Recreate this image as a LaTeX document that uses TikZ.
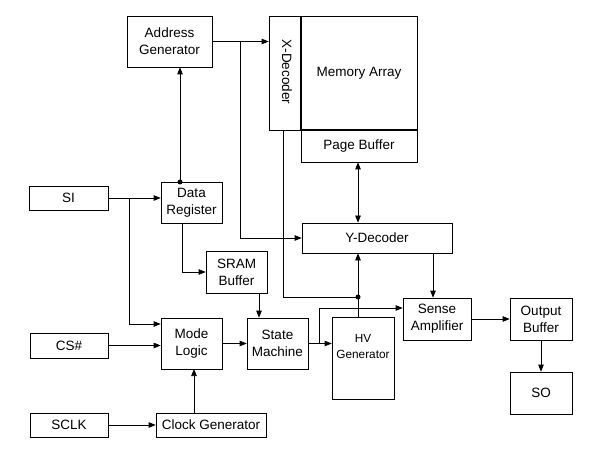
\documentclass[tikz,border=0pt]{standalone}
\usepackage{fontspec}
\setmainfont{Liberation Sans}
\usetikzlibrary{arrows.meta, calc}

\begin{document}
\begin{tikzpicture}[x=1pt, y=-1pt, line width=0.7pt,
    blk/.style={draw, inner sep=0pt, align=center, font=\fontsize{13.5}{17}\selectfont},
    arr/.style={-{Triangle[length=7pt,width=5.5pt]}},
    dbl/.style={{Triangle[length=7pt,width=5.5pt]}-{Triangle[length=7pt,width=5.5pt]}}]
      \useasboundingbox (0,0) rectangle (597,457);

      % top blocks
      \node[blk, minimum width=85, minimum height=51] (addr) at (169.5,41.5) {Address\\Generator};
      \node[blk, minimum width=32, minimum height=114] (xdec) at (285,73) {};
      \node[font=\fontsize{13.5}{17}\selectfont, rotate=-90] (xdectxt) at (287,72) {X-Decoder};
      \node[blk, minimum width=116, minimum height=114] (mem) at (359,73) {Memory Array};
      \node[blk, minimum width=116, minimum height=32] (page) at (359,146) {Page Buffer};
      \draw[line width=1.8pt] (mem.north west) -- (mem.south west) -- (mem.south east);
      \node[blk, minimum width=150, minimum height=30] (ydec) at (377,238) {Y-Decoder};

      % inputs
      \node[blk, minimum width=79, minimum height=24] (si) at (68.5,198) {SI};
      \node[blk, minimum width=78, minimum height=25] (cs) at (69,345.5) {CS\#};
      \node[blk, minimum width=78, minimum height=24] (sclk) at (69,425) {SCLK};

      % control path
      \node[blk, minimum width=61, minimum height=41] (dreg) at (191.5,202.5) {Data\\Register};
      \node[blk, minimum width=61, minimum height=42] (sram) at (236.5,272) {SRAM\\Buffer};
      \node[blk, minimum width=61, minimum height=51] (mode) at (191.5,343.5) {Mode\\Logic};
      \node[blk, minimum width=110, minimum height=24] (clk) at (211,425) {Clock Generator};
      \node[blk, minimum width=61, minimum height=51] (sm) at (277.5,343.5) {State\\Machine};
      \node[blk, minimum width=62, minimum height=82, font=\fontsize{11.8}{16}\selectfont] (hv) at (363,358) {HV\\Generator\\[8pt]};

      % output path
      \node[blk, minimum width=68, minimum height=42] (sense) at (437,319) {Sense\\Amplifier};
      \node[blk, minimum width=62, minimum height=42] (out) at (541,319) {Output\\Buffer};
      \node[blk, minimum width=62, minimum height=42] (so) at (541,393) {SO};

      % junctions
      \coordinate (abr) at (240,41.5);
      \coordinate (sibr) at (129,198);
      \coordinate (dtop) at (180,182);
      \coordinate (dout) at (182,223);
      \coordinate (srout) at (259,293);
      \coordinate (mlin) at (194,369);
      \coordinate (smbr) at (319,343.5);
      \coordinate (hvtop) at (358,317);
      \coordinate (ydot) at (358,297);
      \coordinate (xout) at (283,130);
      \coordinate (ydout) at (433,253);

      \draw[arr] (addr.east) -- (addr.east -| xdec.west);
      \draw[arr] (abr) |- (ydec.west);
      \draw[arr] (dtop) -- (dtop |- addr.south);
      \fill (dtop) circle (2.5pt);
      \draw[arr] (si.east) -- (si.east -| dreg.west);
      \draw[arr] (sibr) |- ($(mode.west)+(0,-19.5)$);
      \draw[arr] (cs.east) -- (cs.east -| mode.west);
      \draw[arr] (sclk.east) -- (sclk.east -| clk.west);
      \draw[arr] (mlin |- clk.north) -- (mlin);
      \draw[arr] (mode.east) -- (sm.west);
      \draw[arr] (dout) |- (sram.west);
      \draw[arr] (srout) -- (srout |- sm.north);
      \draw[arr] (sm.east) -- (sm.east -| hv.west);
      \draw[arr] (smbr) |- ($(sense.west)+(0,-11)$);
      \draw[arr] (hvtop) -- (hvtop |- ydec.south);
      \draw (xout) |- (ydot);
      \fill (ydot) circle (2.5pt);
      \draw[dbl] (page.south -| ydot) -- (ydot |- ydec.north);
      \draw[arr] (ydout) -- (ydout |- sense.north);
      \draw[arr] (sense.east) -- (out.west);
      \draw[arr] (out.south) -- (so.north);
    \end{tikzpicture}
\end{document}
